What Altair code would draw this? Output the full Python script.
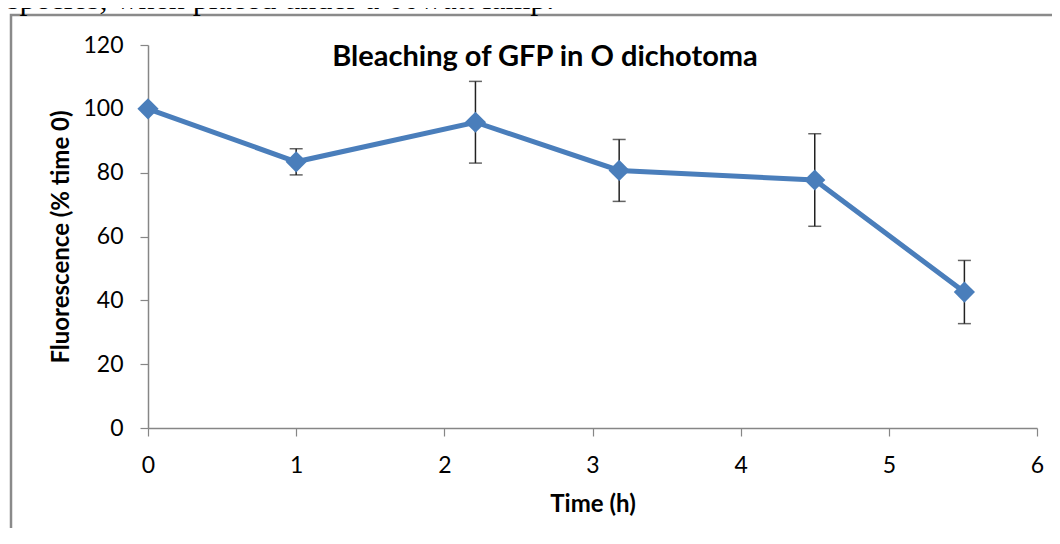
import altair as alt
import pandas as pd

# ---- data ----
time_h = [0, 1, 2.21, 3.18, 4.5, 5.51]
fluorescence = [100, 83.4, 95.8, 80.7, 77.7, 42.6]
error = [0, 4.1, 12.8, 9.7, 14.5, 9.9]
x_ticks = [0, 1, 2, 3, 4, 5, 6]
y_ticks = [0, 20, 40, 60, 80, 100, 120]
chart_title = "Bleaching of GFP in O dichotoma"
x_title = "Time (h)"
y_title = "Fluorescence (% time 0)"
caption = "species, when placed under a 60watt lamp."

df = pd.DataFrame({"time": time_h, "fluor": fluorescence, "err": error})
df["lo"] = df["fluor"] - df["err"]
df["hi"] = df["fluor"] + df["err"]
one = pd.DataFrame({"k": [0]})

W, H = 889, 383
FONT = "Lato"
GREY = "#868686"
BLUE = "#4a7ebb"

x_axis = alt.Axis(
    values=x_ticks, title=x_title, format="d", grid=False,
    domainColor=GREY, domainWidth=1.5, tickColor=GREY, tickSize=8, tickWidth=1.2,
    labelFont=FONT, labelFontSize=23, labelColor="#000", labelPadding=18, labelFlush=False,
    titleFont=FONT, titleFontSize=24, titleFontWeight="bold", titleColor="#000",
    titleX=W / 2, titleY=76, titleBaseline="middle", titleAlign="center",
)
y_axis = alt.Axis(
    values=y_ticks, title=y_title, grid=False,
    domainColor=GREY, domainWidth=1.5, tickColor=GREY, tickSize=8, tickWidth=1.2,
    labelFont=FONT, labelFontSize=23, labelColor="#000", labelPadding=17, labelFlush=False,
    titleFont=FONT, titleFontSize=24, titleFontWeight="bold", titleColor="#000",
    titleX=-87, titleY=H / 2, titleAngle=-90, titleBaseline="middle", titleAlign="center",
)


def xq():
    return alt.X("time:Q", scale=alt.Scale(domain=[0, 6], nice=False, zero=False), axis=x_axis)


def yq(field):
    return alt.Y(f"{field}:Q", scale=alt.Scale(domain=[0, 120], nice=False), axis=y_axis)


frame = alt.Chart(one).mark_rect(fill="transparent", stroke="#8a8a8a", strokeWidth=2.5).encode(
    x=alt.value(-137), x2=alt.value(1000), y=alt.value(-30), y2=alt.value(600)
)

cap_text = alt.Chart(one).mark_text(
    font="Liberation Serif", fontSize=32, align="left", baseline="alphabetic", color="#000"
).encode(x=alt.value(-141), y=alt.value(-36.5), text=alt.value(caption))

title_text = alt.Chart(one).mark_text(
    font=FONT, fontSize=29, fontWeight="bold", align="center", baseline="alphabetic", color="#000"
).encode(x=alt.value(397), y=alt.value(21), text=alt.value(chart_title))

base = alt.Chart(df)

line = base.mark_line(color=BLUE, strokeWidth=5).encode(x=xq(), y=yq("fluor"))

err_rules = base.transform_filter("datum.err > 0").mark_rule(color="#222", strokeWidth=1.5).encode(
    x=xq(), y=yq("lo"), y2="hi:Q"
)
err_lo = base.transform_filter("datum.err > 0").mark_tick(
    orient="horizontal", color="#222", size=13, thickness=1.5
).encode(x=xq(), y=yq("lo"))
err_hi = base.transform_filter("datum.err > 0").mark_tick(
    orient="horizontal", color="#222", size=13, thickness=1.5
).encode(x=xq(), y=yq("hi"))

points = base.mark_point(shape="diamond", filled=True, size=450, color=BLUE, opacity=1).encode(
    x=xq(), y=yq("fluor")
)

chart = alt.layer(
    line, frame, cap_text, err_rules, err_lo, err_hi, points, title_text
).properties(
    width=W,
    height=H,
    autosize=alt.AutoSizeParams(type="none"),
    padding={"left": 140, "top": 37, "right": 15, "bottom": 100},
).configure_view(stroke=None)

chart.save("out.html", embed_options={"renderer": "svg", "actions": False})
